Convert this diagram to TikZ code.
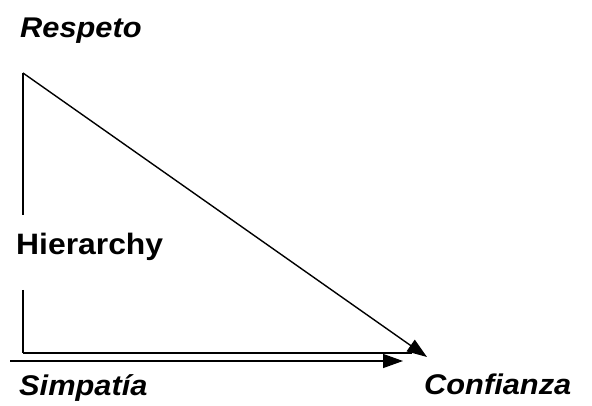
\documentclass[tikz,border=0pt]{standalone}
\usepackage{fontspec}
\setmainfont{Liberation Sans}[FakeStretch=1.08]
\usepackage{tikz}
\usetikzlibrary{positioning, arrows.meta}
\tikzset{
  axislabel/.style={font=\fontsize{28.5}{30}\selectfont\bfseries\itshape, inner sep=0pt, anchor=base west},
  midlabel/.style={font=\fontsize{29.5}{30}\selectfont\bfseries, inner sep=0pt, anchor=base west},
  axisline/.style={draw=black, line width=1.6pt},
  axisarrow/.style={draw=black, line width=1.4pt, -{Triangle[length=20pt,width=14pt]}}
}

\begin{document}
\begin{tikzpicture}[x=1pt, y=-1pt]
  \useasboundingbox (0,0) rectangle (592,406);
  \node[axislabel] (resp) at (20, 38)  {Respeto};
  \node[midlabel]  (hier) at (16, 255) {Hierarchy};
  \node[axislabel] (simp) at (19, 395) {Simpatía};
  \node[axislabel] (conf) at (424, 394) {Confianza};
  \coordinate (top)  at (23, 73);
  \coordinate (vup)  at (23, 215);
  \coordinate (vdn)  at (23, 290);
  \coordinate (low)  at (23, 353);
  \coordinate (tip)  at (427, 357);
  \coordinate (hend) at (412, 353);
  \coordinate (sbeg) at (10, 361);
  \coordinate (stip) at (403, 361);
  \draw[axisline] (top)--(vup); \draw[axisline] (vdn)--(low);
  \draw[axisline] (low)--(hend);
  \draw[axisarrow] (top)--(tip);
  \draw[axisarrow] (sbeg)--(stip);
\end{tikzpicture}
\end{document}
